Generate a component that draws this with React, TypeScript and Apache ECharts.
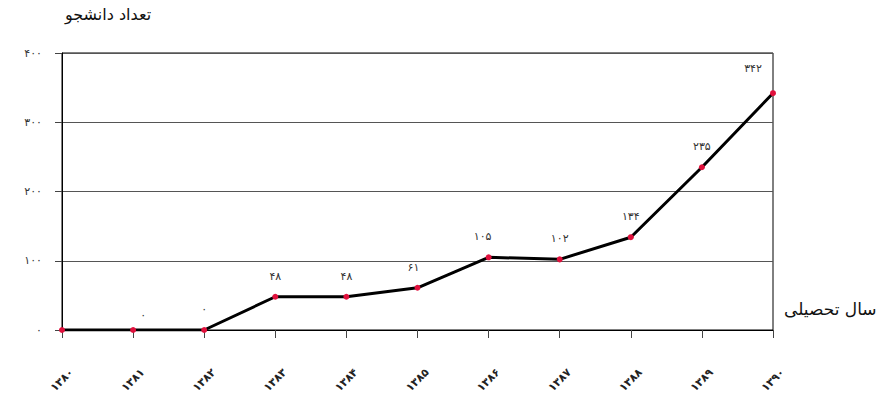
import React, { useEffect, useRef } from "react";
import * as echarts from "echarts";

const categories = ["۱۳۸۰", "۱۳۸۱", "۱۳۸۲", "۱۳۸۳", "۱۳۸۴", "۱۳۸۵", "۱۳۸۶", "۱۳۸۷", "۱۳۸۸", "۱۳۸۹", "۱۳۹۰"];
const studentCounts = [0, 0, 0, 48, 48, 61, 105, 102, 134, 235, 342];
const yTickLabels: Record<number, string> = { 0: "۰", 100: "۱۰۰", 200: "۲۰۰", 300: "۳۰۰", 400: "۴۰۰" };
const yAxisTitle = "تعداد دانشجو";
const xAxisTitle = "سال تحصیلی";

const toPersian = (n: number) => String(n).replace(/\d/g, (d) => "۰۱۲۳۴۵۶۷۸۹"[+d]);

const FONT = "DejaVu Sans";

export default function App() {
  const ref = useRef<HTMLDivElement>(null);
  useEffect(() => {
    if (!ref.current) return;
    const chart = echarts.init(ref.current, null, { renderer: "svg" });
    const labelTweaks: Record<number, any> = {
      0: { show: false },
      1: { offset: [10, 6] },
      5: { offset: [-4, 0] },
      6: { offset: [-6, 0] },
      10: { offset: [-20, -4] },
    };
    const data = studentCounts.map((v, i) => ({
      value: v,
      label: labelTweaks[i] || {},
    }));
    chart.setOption({
      animation: false,
      backgroundColor: "#ffffff",
      grid: { left: 62, right: 109, top: 53, bottom: 71, show: true, borderColor: "#000", borderWidth: 1 },
      xAxis: {
        type: "category",
        data: categories,
        boundaryGap: false,
        axisLine: { lineStyle: { color: "#000", width: 1 } },
        axisTick: { show: true, length: 8, alignWithLabel: true, lineStyle: { color: "#444" } },
        axisLabel: {
          rotate: 45,
          align: "center",
          verticalAlign: "middle",
          margin: 50,
          fontFamily: FONT,
          fontSize: 11,
          fontWeight: "bold",
          color: "#222",
          interval: 0,
        },
        splitLine: { show: false },
      },
      yAxis: {
        type: "value",
        min: 0,
        max: 400,
        interval: 100,
        axisLine: { show: true, lineStyle: { color: "#000" } },
        axisTick: { show: true, length: 7, lineStyle: { color: "#444" } },
        axisLabel: {
          margin: 20,
          fontFamily: FONT,
          fontSize: 11,
          color: "#333",
          formatter: (v: number) => yTickLabels[v] ?? toPersian(v),
        },
        splitLine: { show: true, lineStyle: { color: "#555", width: 1 } },
      },
      series: [
        {
          type: "line",
          data,
          lineStyle: { color: "#000", width: 3 },
          symbol: "circle",
          symbolSize: 6,
          itemStyle: { color: "#e0103c", borderWidth: 0 },
          label: {
            show: true,
            position: "top",
            distance: 12,
            fontFamily: FONT,
            fontSize: 11,
            color: "#333",
            formatter: (p: any) => toPersian(p.value),
          },
          z: 5,
        },
      ],
      graphic: [
        {
          type: "text",
          left: 65,
          top: 6,
          style: { text: yAxisTitle, fontFamily: FONT, fontSize: 16, fill: "#111" },
        },
        {
          type: "text",
          left: 784,
          top: 300,
          style: { text: xAxisTitle, fontFamily: FONT, fontSize: 17, fill: "#111" },
        },
      ],
    });
    return () => chart.dispose();
  }, []);
  return <div ref={ref} style={{ position: "fixed", left: 0, top: 0, width: 882, height: 401 }} />;
}
